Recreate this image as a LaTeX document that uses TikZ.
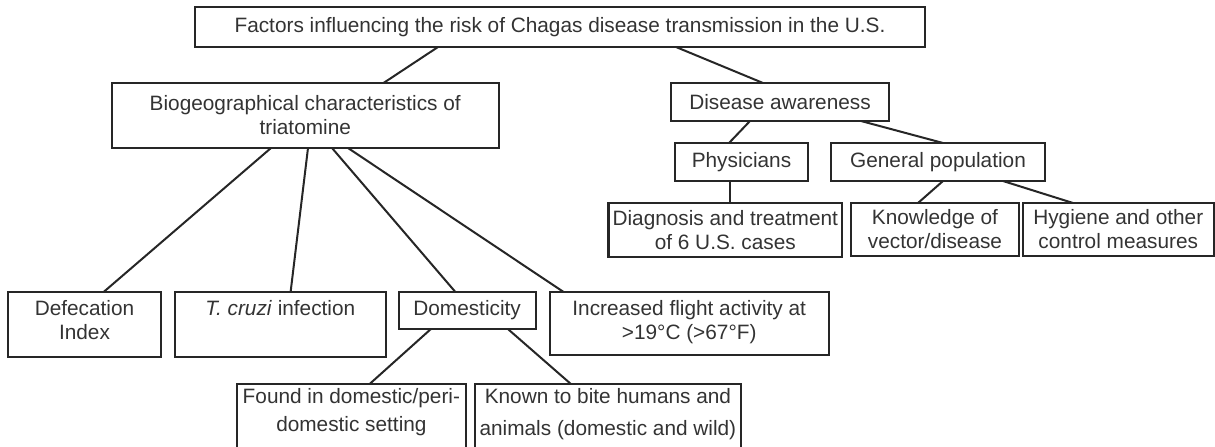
\documentclass[tikz,border=0pt]{standalone}
\usepackage{fontspec}
\setmainfont{Liberation Sans}
\usetikzlibrary{positioning}
\definecolor{LineGray}{HTML}{262626}
\definecolor{TextGray}{HTML}{333333}
\tikzset{
  bx/.style={rectangle,draw=LineGray,line width=1pt,outer sep=0pt,
             inner xsep=1pt,inner ysep=2pt,align=center,text=TextGray,
             font=\fontsize{10.4pt}{12pt}\selectfont},
  bxT/.style={bx,line width=1.3pt},
  txt/.style={align=center,inner sep=0pt,text=TextGray,
              font=\fontsize{10.4pt}{12pt}\selectfont},
  lnk/.style={draw=LineGray,line width=1pt}
}
\begin{document}
\begin{tikzpicture}
  \useasboundingbox (0,0) rectangle (607.5pt,-223pt);

  % Top level
  \node[bx,minimum width=365pt,minimum height=20pt,anchor=north west] (risk) at (97.5pt,-3.5pt)
    {Factors influencing the risk of Chagas disease transmission in the U.S.};

  % Second level
  \node[bx,minimum width=193.75pt,minimum height=32.5pt,below right=18pt and -41.75pt of risk.south west] (bio)
    {Biogeographical characteristics of\\triatomine};
  \node[bx,minimum width=109pt,minimum height=19pt,below right=0pt and 86pt of bio.north east] (aware)
    {Disease awareness};

  % Awareness branch
  \node[bxT,minimum width=66.5pt,minimum height=19pt,below right=11pt and 2pt of aware.south west] (phys) {Physicians};
  \node[bxT,minimum width=107pt,minimum height=19pt,below right=0pt and 11.5pt of phys.north east] (pop) {General population};
  \node[bxT,minimum width=116.7pt,minimum height=27pt,below right=11pt and -33.2pt of phys.south west] (diag)
    {Diagnosis and treatment\\of 6 U.S. cases};
  \node[bx,minimum width=84pt,minimum height=26.5pt,below right=0pt and 4.5pt of diag.north east] (know)
    {Knowledge of\\vector/disease};
  \node[bx,minimum width=95.25pt,minimum height=26.5pt,below right=0pt and 2pt of know.north east] (hyg)
    {Hygiene and other\\control measures};

  % Characteristics branch
  \node[bx,minimum width=76.5pt,minimum height=32.5pt,below right=72pt and -51.75pt of bio.south west] (defec) {};
  \node[bx,minimum width=105.25pt,minimum height=32.5pt,below right=0pt and 7pt of defec.north east] (cruzi) {};
  \node[bx,minimum width=68.6pt,minimum height=18.5pt,below right=0pt and 6.5pt of cruzi.north east] (domes) {Domesticity};
  \node[bx,minimum width=139.5pt,minimum height=31.5pt,below right=0pt and 7pt of domes.north east] (flight) {};
  \node[bxT,minimum width=114.5pt,minimum height=40pt,below right=27.5pt and -80.8pt of domes.south west] (found) {};
  \node[bx,minimum width=133pt,minimum height=40pt,below right=0pt and 4.5pt of found.north east] (bite) {};

  % texts set at the top of their boxes
  \node[txt,below=3.8pt of defec.north] (defec-t) {Defecation\\Index};
  \node[txt,below=3.8pt of cruzi.north] (cruzi-t) {\textit{T. cruzi} infection};
  \node[txt,below=3.8pt of flight.north] (flight-t) {Increased flight activity at\\>19°C (>67°F)};
  \node[txt,below=1.8pt of found.north] (found-t) {Found in domestic/peri-\\[2pt]domestic setting};
  \node[txt,below=1.8pt of bite.north] (bite-t) {Known to bite humans and\\[4pt]animals (domestic and wild)};

  \draw[lnk] ([xshift=121.5pt]risk.south west) -- ([xshift=136pt]bio.north west);
  \draw[lnk] ([xshift=240.5pt]risk.south west) -- ([xshift=46pt]aware.north west);
  \draw[lnk] ([xshift=39.5pt]aware.south west) -- ([xshift=27pt]phys.north west);
  \draw[lnk] ([xshift=95pt]aware.south west) -- ([xshift=56pt]pop.north west);
  \draw[lnk] ([xshift=27.5pt]phys.south west) -- ([xshift=60.7pt]diag.north west);
  \draw[lnk] ([xshift=56pt]pop.south west) -- ([xshift=33.5pt]know.north west);
  \draw[lnk] ([xshift=86pt]pop.south west) -- ([xshift=25pt]hyg.north west);
  \draw[lnk] ([xshift=79.75pt]bio.south west) -- ([xshift=47.8pt]defec.north west);
  \draw[lnk] ([xshift=98.25pt]bio.south west) -- ([xshift=57.8pt]cruzi.north west);
  \draw[lnk] ([xshift=110.25pt]bio.south west) -- ([xshift=28.45pt]domes.north west);
  \draw[lnk] ([xshift=118.25pt]bio.south west) -- ([xshift=6.95pt]flight.north west);
  \draw[lnk] ([xshift=16.2pt]domes.south west) -- ([xshift=66.35pt]found.north west);
  \draw[lnk] ([xshift=54.7pt]domes.south west) -- ([xshift=48pt]bite.north west);
\end{tikzpicture}
\end{document}
